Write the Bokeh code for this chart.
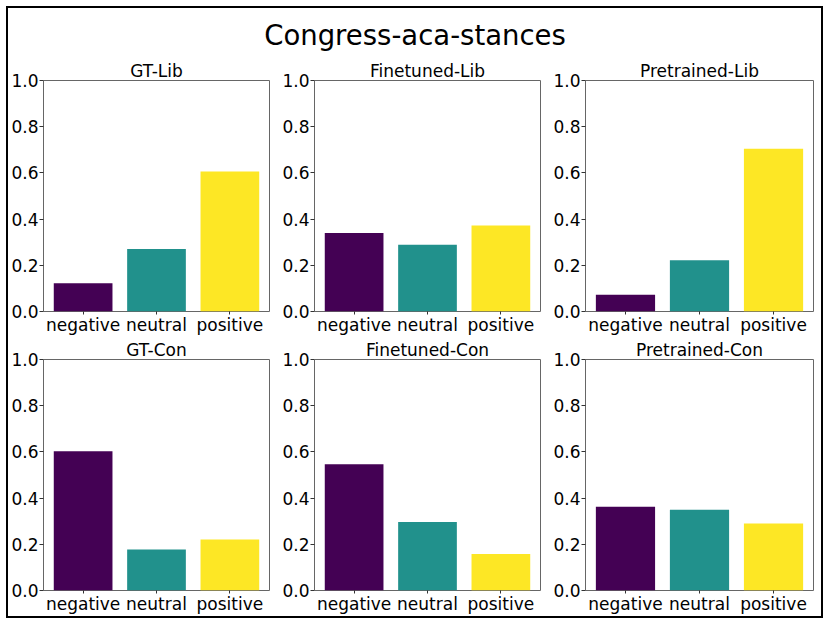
from bokeh.plotting import figure
from bokeh.layouts import column, row
from bokeh.models import Range1d, FixedTicker, ColumnDataSource, PrintfTickFormatter
from bokeh.core.properties import value
from bokeh.embed import file_html
from bokeh.resources import INLINE

main_title = "Congress-aca-stances"
categories = ["negative", "neutral", "positive"]
bar_colors = ["#440154", "#21918c", "#fde725"]
panel_titles = ["GT-Lib", "Finetuned-Lib", "Pretrained-Lib",
                "GT-Con", "Finetuned-Con", "Pretrained-Con"]
gt_lib = [0.122, 0.271, 0.606]
finetuned_lib = [0.340, 0.289, 0.372]
pretrained_lib = [0.073, 0.222, 0.705]
gt_con = [0.603, 0.177, 0.221]
finetuned_con = [0.547, 0.296, 0.158]
pretrained_con = [0.363, 0.350, 0.290]
y_ticks = [0.0, 0.2, 0.4, 0.6, 0.8, 1.0]

panel_values = [gt_lib, finetuned_lib, pretrained_lib, gt_con, finetuned_con, pretrained_con]

FONT = "DejaVu Sans"
FS = "17px"
FRAME_H = 231


def make_panel(title, vals, col, rowi):
    left = [33, 33, 35][col]
    right = 271 - left - 228
    top = 25 if rowi == 0 else 22
    bottom = 26
    h = top + FRAME_H + bottom
    p = figure(width=271, height=h, x_range=Range1d(-0.54, 2.54), y_range=Range1d(0, 1),
               output_backend="svg", toolbar_location=None,
               min_border_left=left, min_border_right=right,
               min_border_top=top, min_border_bottom=bottom)
    src = ColumnDataSource(dict(x=list(range(len(categories))), top=vals,
                                color=bar_colors, cat=categories))
    p.vbar(x="x", top="top", bottom=0, width=0.8, fill_color="color",
           line_color=None, source=src)
    p.title.text = title
    p.title.align = "center"
    p.title.text_font = FONT
    p.title.text_font_size = FS
    p.title.text_font_style = "normal"
    p.title.text_color = "black"
    p.title.standoff = 0
    p.grid.visible = False
    p.outline_line_color = "#666666"
    p.outline_line_width = 1
    p.xaxis.ticker = FixedTicker(ticks=list(range(len(categories))))
    p.xaxis.major_label_overrides = {i: c for i, c in enumerate(categories)}
    p.yaxis.ticker = FixedTicker(ticks=y_ticks)
    p.yaxis.formatter = PrintfTickFormatter(format="%.1f")
    for ax in (p.xaxis[0], p.yaxis[0]):
        ax.axis_line_color = None
        ax.minor_tick_line_color = None
        ax.major_tick_in = 0
        ax.major_tick_line_color = "#333333"
        ax.major_label_text_font = FONT
        ax.major_label_text_font_size = FS
        ax.major_label_text_color = "black"
    p.yaxis.major_tick_out = 4
    p.yaxis.major_label_standoff = 1
    p.xaxis.major_tick_out = 3
    p.xaxis.major_label_standoff = 0
    p.background_fill_color = "white"
    p.border_fill_color = "white"
    return p


panels = [make_panel(t, v, i % 3, i // 3) for i, (t, v) in enumerate(zip(panel_titles, panel_values))]

tfig = figure(width=813, height=47, output_backend="svg", toolbar_location=None,
              min_border=0, x_range=Range1d(0, 1), y_range=Range1d(0, 1))
tfig.axis.visible = False
tfig.grid.visible = False
tfig.outline_line_color = None
tfig.text(x=[0.5], y=[0.43], text=[main_title], text_align="center",
          text_baseline="alphabetic", text_font=value(FONT), text_font_size="27.5px",
          text_color="black")

layout = column(tfig, row(*panels[:3]), row(*panels[3:]),
                margin=(6, 0, 0, 6),
                styles={"border": "2px solid black"})

open("out.html", "w").write(file_html(layout, INLINE))
